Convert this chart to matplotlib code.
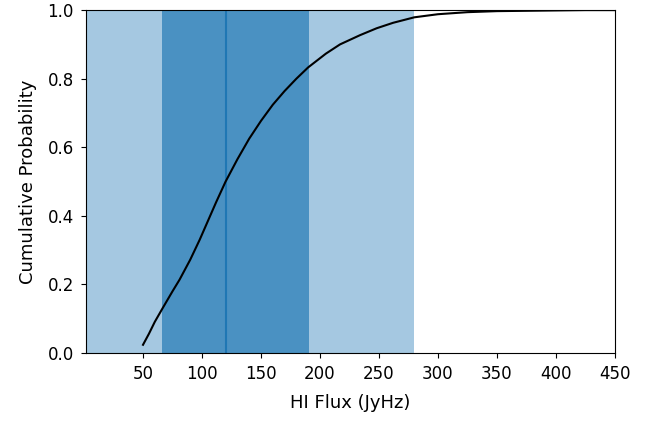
import matplotlib
matplotlib.use("Agg")
import matplotlib.pyplot as plt

# CDF of HI flux
flux = [50, 55, 60, 66.5, 75, 81, 90, 98, 105, 112, 120, 130, 140, 150, 160, 170,
        180, 190, 205, 217, 234, 248, 262, 280, 300, 325, 350, 375, 400, 425, 450]
cdf = [0.024, 0.056, 0.091, 0.13, 0.18, 0.214, 0.272, 0.33, 0.385, 0.44, 0.50, 0.565,
       0.625, 0.677, 0.724, 0.764, 0.80, 0.833, 0.873, 0.9, 0.927, 0.947, 0.963, 0.979,
       0.988, 0.994, 0.997, 0.998, 0.999, 1.0, 1.0]

x_min = 1.5
outer_range = (x_min, 280)
inner_range = (66.5, 191)
median = 120

fig = plt.figure(figsize=(6.5, 4.21), dpi=100)
ax = fig.add_axes([0.132, 0.1615, 0.814, 0.8145])

ax.axvspan(*outer_range, color="tab:blue", alpha=0.4, lw=0)
ax.axvspan(*inner_range, color="tab:blue", alpha=0.68, lw=0)
ax.axvline(median, color="tab:blue", lw=1.5)
ax.plot(flux, cdf, color="black", lw=1.5)

ax.set_xlim(x_min, 450)
ax.set_ylim(0, 1)
ax.set_xticks([50, 100, 150, 200, 250, 300, 350, 400, 450])
ax.tick_params(labelsize=12, pad=5)
ax.set_xlabel("HI Flux (JyHz)", fontsize=13, labelpad=8)
ax.set_ylabel("Cumulative Probability", fontsize=13, labelpad=8)

fig.savefig("out.png", dpi=100)
